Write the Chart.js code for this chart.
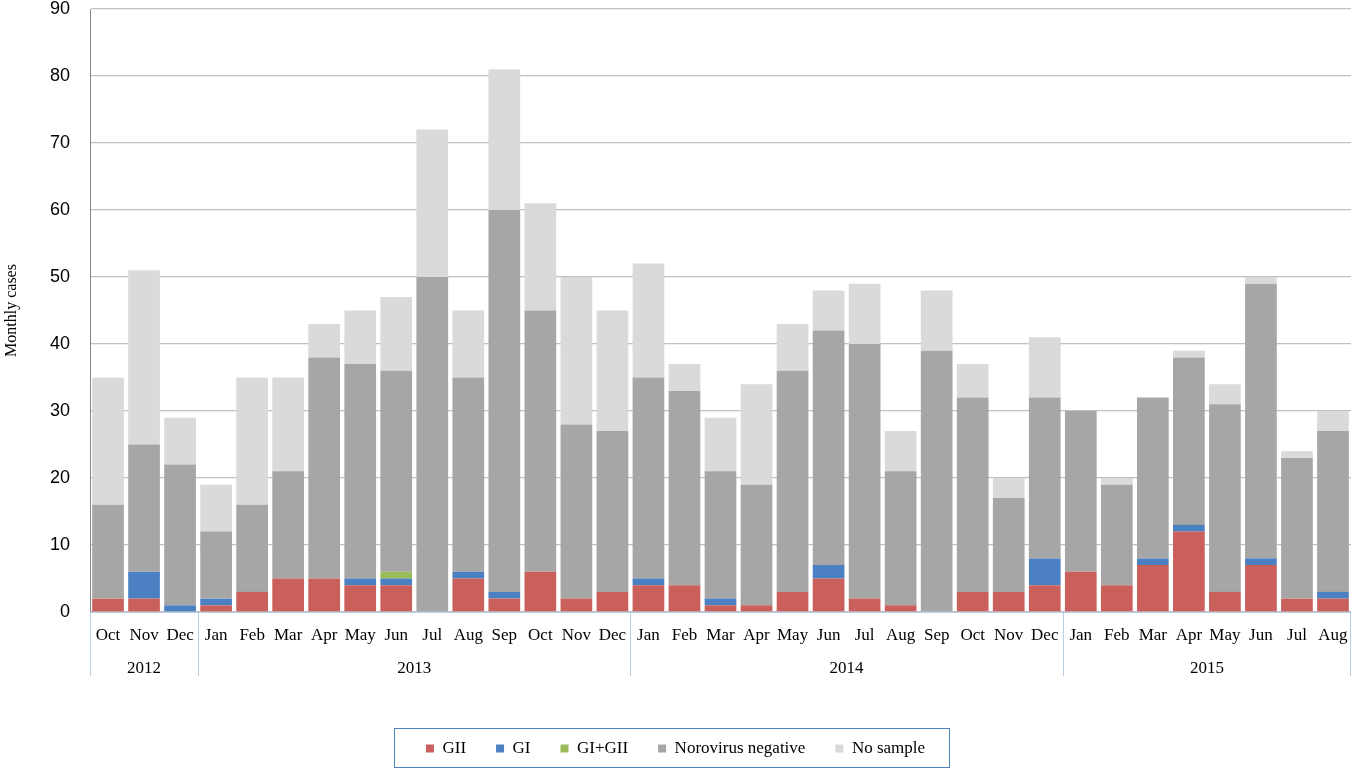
<!DOCTYPE html>
<html>
<head>
<meta charset="utf-8">
<script src="https://cdn.jsdelivr.net/npm/chart.js@4.4.1/dist/chart.umd.min.js"></script>
<style>
  body { margin: 0; background: #fff; }
  canvas { display: block; }
</style>
</head>
<body>
<canvas id="casesChart" width="1351" height="769"></canvas>
<script>
// month labels, Oct 2012 .. Aug 2015
const months = [
  "Oct", "Nov", "Dec",
  "Jan", "Feb", "Mar", "Apr", "May", "Jun", "Jul", "Aug", "Sep", "Oct", "Nov", "Dec",
  "Jan", "Feb", "Mar", "Apr", "May", "Jun", "Jul", "Aug", "Sep", "Oct", "Nov", "Dec",
  "Jan", "Feb", "Mar", "Apr", "May", "Jun", "Jul", "Aug",
];
const yearLabels = ["2012", "2013", "2014", "2015"];
const yearSpans = [3, 12, 12, 8];

const gii = [
  2, 2, 0,
  1, 3, 5, 5, 4, 4, 0, 5, 2, 6, 2, 3,
  4, 4, 1, 1, 3, 5, 2, 1, 0, 3, 3, 4,
  6, 4, 7, 12, 3, 7, 2, 2,
];
const gi = [
  0, 4, 1,
  1, 0, 0, 0, 1, 1, 0, 1, 1, 0, 0, 0,
  1, 0, 1, 0, 0, 2, 0, 0, 0, 0, 0, 4,
  0, 0, 1, 1, 0, 1, 0, 1,
];
const giGii = [
  0, 0, 0,
  0, 0, 0, 0, 0, 1, 0, 0, 0, 0, 0, 0,
  0, 0, 0, 0, 0, 0, 0, 0, 0, 0, 0, 0,
  0, 0, 0, 0, 0, 0, 0, 0,
];
const negative = [
  14, 19, 21,
  10, 13, 16, 33, 32, 30, 50, 29, 57, 39, 26, 24,
  30, 29, 19, 18, 33, 35, 38, 20, 39, 29, 14, 24,
  24, 15, 24, 25, 28, 41, 21, 24,
];
const noSample = [
  19, 26, 7,
  7, 19, 14, 5, 8, 11, 22, 10, 21, 16, 22, 18,
  17, 4, 8, 15, 7, 6, 9, 6, 9, 5, 3, 9,
  0, 1, 0, 1, 3, 1, 1, 3,
];

const serif = "'Liberation Serif', 'Times New Roman', serif";
const sans = "'Liberation Sans', Arial, sans-serif";
const groupLineColor = "#b9cde5";

// year row under the month labels, with separators
const yearGroups = {
  id: "yearGroups",
  afterDraw(chart) {
    const ctx = chart.ctx;
    const x = chart.scales.x;
    const bottom = chart.chartArea.bottom;
    const half = (x.getPixelForValue(1) - x.getPixelForValue(0)) / 2;
    let start = 0;
    ctx.save();
    ctx.strokeStyle = groupLineColor;
    ctx.lineWidth = 1;
    ctx.fillStyle = "#000";
    ctx.font = "17px " + serif;
    ctx.textAlign = "center";
    ctx.textBaseline = "middle";
    for (let i = 0; i < yearLabels.length; i++) {
      const end = start + yearSpans[i] - 1;
      const left = x.getPixelForValue(start) - half;
      const right = x.getPixelForValue(end) + half;
      ctx.beginPath();
      ctx.moveTo(Math.round(left) + 0.5, bottom);
      ctx.lineTo(Math.round(left) + 0.5, bottom + 64);
      ctx.stroke();
      if (i == yearLabels.length - 1) {
        ctx.beginPath();
        ctx.moveTo(Math.round(right) - 0.5, bottom);
        ctx.lineTo(Math.round(right) - 0.5, bottom + 64);
        ctx.stroke();
      }
      ctx.fillText(yearLabels[i], (left + right) / 2, bottom + 57);
      start = end + 1;
    }
    ctx.restore();
  },
};

// frame round the legend
const legendFrame = {
  id: "legendFrame",
  afterDraw(chart) {
    const boxes = chart.legend.legendHitBoxes;
    if (!boxes || !boxes.length) return;
    let minX = Infinity, maxX = -Infinity;
    for (const b of boxes) {
      minX = Math.min(minX, b.left);
      maxX = Math.max(maxX, b.left + b.width);
    }
    const midY = boxes[0].top + boxes[0].height / 2;
    const ctx = chart.ctx;
    ctx.save();
    ctx.strokeStyle = "#4f81bd";
    ctx.lineWidth = 1;
    ctx.strokeRect(Math.round(minX - 32) + 0.5, Math.round(midY - 21) + 0.5,
      Math.round(maxX - minX + 56), 39);
    ctx.restore();
  },
};

function makeDataset(label, values, color) {
  return {
    label: label,
    data: values,
    backgroundColor: color,
    borderWidth: 0,
    barPercentage: 0.88,
    categoryPercentage: 1,
  };
}

window.addEventListener("load", () => {
  const ctx = document.getElementById("casesChart").getContext("2d");
  new Chart(ctx, {
    type: "bar",
    data: {
      labels: months,
      datasets: [
        makeDataset("GII", gii, "#c9605c"),
        makeDataset("GI", gi, "#4b80c2"),
        makeDataset("GI+GII", giGii, "#9bbb59"),
        makeDataset("Norovirus negative", negative, "#a5a6a5"),
        makeDataset("No sample", noSample, "#d9dadb"),
      ],
    },
    options: {
      responsive: false,
      animation: false,
      layout: { padding: { top: 0, right: 0, bottom: 2, left: 0 } },
      plugins: {
        tooltip: { enabled: false },
        legend: {
          position: "bottom",
          labels: {
            boxWidth: 8,
            boxHeight: 8,
            padding: 30,
            color: "#000",
            font: { family: serif, size: 17 },
          },
        },
      },
      scales: {
        x: {
          stacked: true,
          grid: {
            display: false,
            drawOnChartArea: false,
            tickLength: 13,
            tickColor: "rgba(0,0,0,0)",
          },
          border: { color: groupLineColor, width: 1 },
          ticks: {
            color: "#000",
            font: { family: serif, size: 17 },
            padding: 0,
            maxRotation: 0,
            autoSkip: false,
          },
          afterFit: (scale) => {
            scale.height = 98;
          },
        },
        y: {
          stacked: true,
          min: 0,
          max: 90,
          ticks: {
            stepSize: 10,
            color: "#000",
            font: { family: sans, size: 18, lineHeight: 1 },
            padding: 0,
          },
          grid: {
            color: "#c0c0c0",
            lineWidth: 1.3,
            tickLength: 20,
            tickColor: "rgba(0,0,0,0)",
          },
          border: { color: "#868686", width: 1 },
          title: {
            display: true,
            text: "Monthly cases",
            color: "#000",
            font: { family: serif, size: 16 },
            padding: { top: 2, bottom: 0 },
          },
          afterFit: (scale) => {
            scale.width = 90;
          },
        },
      },
    },
    plugins: [yearGroups, legendFrame],
  });
});
</script>
</body>
</html>
